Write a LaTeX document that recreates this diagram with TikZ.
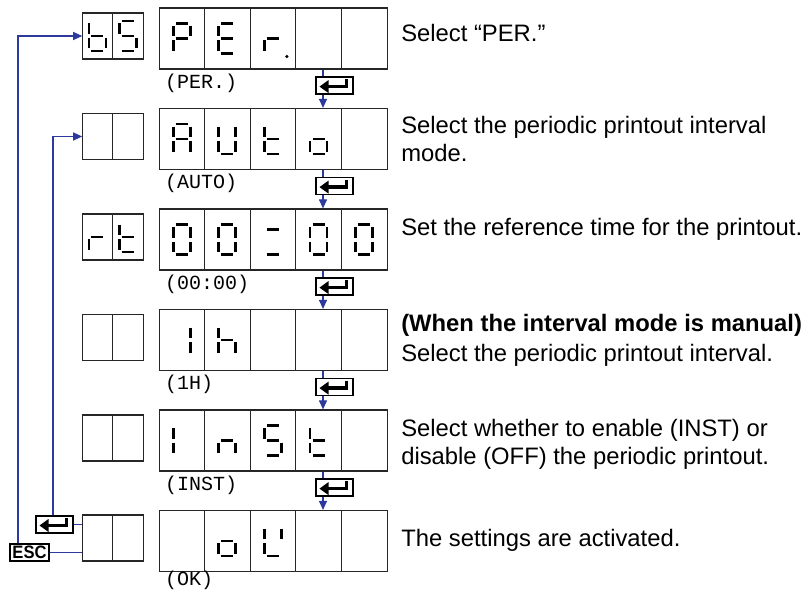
\documentclass[tikz,border=0pt]{standalone}
\usepackage{fontspec}
\setmainfont{Liberation Sans}
\setmonofont{Liberation Mono}
\usetikzlibrary{positioning,calc,arrows.meta}

\definecolor{flowblue}{RGB}{44,58,158}

% seven-segment pieces, drawn round the centre of one cell
\tikzset{
  seg/.style={line width=2.7pt},
  pics/seg a/.style={code={\draw[seg] (-6,-15) -- (6,-15);}},
  pics/seg b/.style={code={\draw[seg] (8.5,-12.5) -- (8.5,-2);}},
  pics/seg c/.style={code={\draw[seg] (8.5,2) -- (8.5,12.5);}},
  pics/seg d/.style={code={\draw[seg] (-6,15) -- (6,15);}},
  pics/seg e/.style={code={\draw[seg] (-8.5,2) -- (-8.5,12.5);}},
  pics/seg f/.style={code={\draw[seg] (-8.5,-12.5) -- (-8.5,-2);}},
  pics/seg g/.style={code={\draw[seg] (-6,0) -- (6,0);}},
  pics/seg k/.style={code={\draw[seg] (-6,-10) -- (6,-10);}},
  pics/seg p/.style={code={\fill (14,18) circle[radius=1.8pt];}},
  pics/enter/.style={code={
    \draw[line width=3.4pt] (12,-6.5) -- (12,1) -- (-7,1);
    \fill (-15,1) -- (-6,-5.5) -- (-6,7.5) -- cycle;
  }}
}

% cell centres (#1-1, #1-2, ...) and dividers of a display
\newcommand{\cells}[3]{%
  \foreach \k in {1,...,#2}
    \coordinate (#1-\k) at ($(#1.west)+({#3*(\k-0.5)},0)$);
  \foreach \k in {2,...,#2}
    \draw[dispframe] ($(#1.north west)+({#3*(\k-1)},0)$) -- ($(#1.south west)+({#3*(\k-1)},0)$);
}
\newcommand{\glyph}[2]{\foreach \s in {#2} \pic at (#1) {seg \s};}

\begin{document}
\begin{tikzpicture}[
  x=1pt,y=-1pt,
  dispframe/.style={draw=black!85,line width=1.2pt},
  bigdisp/.style={dispframe,minimum width=228pt,minimum height=61pt,inner sep=0pt},
  smalldisp/.style={dispframe,minimum width=61pt,minimum height=46pt,inner sep=0pt},
  enterkey/.style={draw,line width=1.4pt,fill=white,minimum width=37pt,minimum height=17pt,inner sep=0pt},
  esckey/.style={enterkey,minimum width=39pt,font=\bfseries\fontsize{18}{18}\selectfont},
  flow/.style={flowblue,line width=1.1pt,-{Triangle[length=9pt,width=8pt]}},
  flowline/.style={flowblue,line width=1.1pt},
  modelabel/.style={anchor=base west,inner sep=0pt,font=\ttfamily\fontsize{20}{24}\selectfont},
  desctext/.style={anchor=base west,align=left,inner sep=0pt,font=\fontsize{23.8}{28}\selectfont}
]
\useasboundingbox (0,0) rectangle (810,591);

% displays
\node[bigdisp] (d1) at (273.5,38.5) {};
\node[bigdisp,below=38.3pt of d1] (d2) {};
\node[bigdisp,below=38.3pt of d2] (d3) {};
\node[bigdisp,below=38.3pt of d3] (d4) {};
\node[bigdisp,below=38.3pt of d4] (d5) {};
\node[bigdisp,below=38.3pt of d5] (d6) {};
\node[smalldisp,left=14.5pt of d1,yshift=2.5pt] (s1) {};
\node[smalldisp,left=14.5pt of d2,yshift=2.5pt] (s2) {};
\node[smalldisp,left=14.5pt of d3,yshift=2.5pt] (s3) {};
\node[smalldisp,left=14.5pt of d4,yshift=2.5pt] (s4) {};
\node[smalldisp,left=14.5pt of d5,yshift=2.5pt] (s5) {};
\node[smalldisp,left=14.5pt of d6,yshift=3pt] (s6) {};
\cells{d1}{5}{45.6} \cells{d2}{5}{45.6} \cells{d3}{5}{45.6}
\cells{d4}{5}{45.6} \cells{d5}{5}{45.6} \cells{d6}{5}{45.6}
\cells{s1}{2}{30.5} \cells{s2}{2}{30.5} \cells{s3}{2}{30.5}
\cells{s4}{2}{30.5} \cells{s5}{2}{30.5} \cells{s6}{2}{30.5}

% characters
\glyph{s1-1}{f,e,g,c,d} \glyph{s1-2}{a,f,g,c,d}
\glyph{d1-1}{a,b,f,g,e} \glyph{d1-2}{a,f,g,e,d} \glyph{d1-3}{e,g,p}
\glyph{d2-1}{a,b,c,e,f,g} \glyph{d2-2}{b,c,d,e,f} \glyph{d2-3}{f,e,g,d} \glyph{d2-4}{g,c,d,e}
\glyph{s3-1}{e,g} \glyph{s3-2}{f,e,g,d}
\glyph{d3-1}{a,b,c,d,e,f} \glyph{d3-2}{a,b,c,d,e,f} \glyph{d3-3}{k,d}
\glyph{d3-4}{a,b,c,d,e,f} \glyph{d3-5}{a,b,c,d,e,f}
\glyph{d4-1}{b,c} \glyph{d4-2}{f,e,g,c}
\glyph{d5-1}{e,f} \glyph{d5-2}{g,c,e} \glyph{d5-3}{a,f,g,c,d} \glyph{d5-4}{f,e,g,d}
\glyph{d6-2}{g,c,d,e} \glyph{d6-3}{b,d,e,f}

% labels under the displays
\node[modelabel] (t1) at ([xshift=6pt,yshift=-18.5pt]d1.south west) {(PER.)};
\node[modelabel] (t2) at ([xshift=6pt,yshift=-18.5pt]d2.south west) {(AUTO)};
\node[modelabel] (t3) at ([xshift=6pt,yshift=-18.5pt]d3.south west) {(00:00)};
\node[modelabel] (t4) at ([xshift=6pt,yshift=-18.5pt]d4.south west) {(1H)};
\node[modelabel] (t5) at ([xshift=6pt,yshift=-18.5pt]d5.south west) {(INST)};
\node[modelabel] (t6) at ([xshift=6pt,yshift=-13.5pt]d6.south west) {(OK)};

% enter steps
\draw[flow] ([xshift=49.5pt]d1.south) -- ([xshift=49.5pt]d2.north);
\draw[flow] ([xshift=49.5pt]d2.south) -- ([xshift=49.5pt]d3.north);
\draw[flow] ([xshift=49.5pt]d3.south) -- ([xshift=49.5pt]d4.north);
\draw[flow] ([xshift=49.5pt]d4.south) -- ([xshift=49.5pt]d5.north);
\draw[flow] ([xshift=49.5pt]d5.south) -- ([xshift=49.5pt]d6.north);
\node[enterkey] (k1) at ([xshift=61pt,yshift=-16pt]d1.south) {};
\node[enterkey] (k2) at ([xshift=61pt,yshift=-16pt]d2.south) {};
\node[enterkey] (k3) at ([xshift=61pt,yshift=-16pt]d3.south) {};
\node[enterkey] (k4) at ([xshift=61pt,yshift=-16pt]d4.south) {};
\node[enterkey] (k5) at ([xshift=61pt,yshift=-16pt]d5.south) {};
\pic at (k1) {enter}; \pic at (k2) {enter}; \pic at (k3) {enter};
\pic at (k4) {enter}; \pic at (k5) {enter};

% return paths
\node[enterkey,left=8.5pt of s6,yshift=13.5pt] (ke) {};
\pic at (ke) {enter};
\node[esckey,left=32.5pt of s6,yshift=-14.5pt] (esc) {\scalebox{0.92}[1]{ESC}};
\draw[flowline] (ke.east) -- (ke.east -| s6.west);
\draw[flowline] (esc.east) -- (esc.east -| s6.west);
\draw[flow] ([xshift=-1.5pt]ke.north) |- (s2.west);
\draw[flow] ([xshift=-11.5pt]esc.north) |- (s1.west);

% descriptions
\node[desctext] (x1) at ([xshift=13pt,yshift=-3.2pt]d1.east) {Select “PER.”};
\node[desctext] (x2) at ([xshift=13pt,yshift=-22.5pt]d2.east) {Select the periodic printout interval\\mode.};
\node[desctext] (x3) at ([xshift=13pt,yshift=4.5pt]d3.east) {Set the reference time for the printout.};
\node[desctext] (x4) at ([xshift=13pt,yshift=-21pt]d4.east) {{\bfseries (When the interval mode is manual)}\\[2pt]Select the periodic printout interval.};
\node[desctext] (x5) at ([xshift=13pt,yshift=-23.5pt]d5.east) {Select whether to enable (INST) or\\disable (OFF) the periodic printout.};
\node[desctext] (x6) at ([xshift=13pt,yshift=-5.5pt]d6.east) {The settings are activated.};
\end{tikzpicture}
\end{document}
